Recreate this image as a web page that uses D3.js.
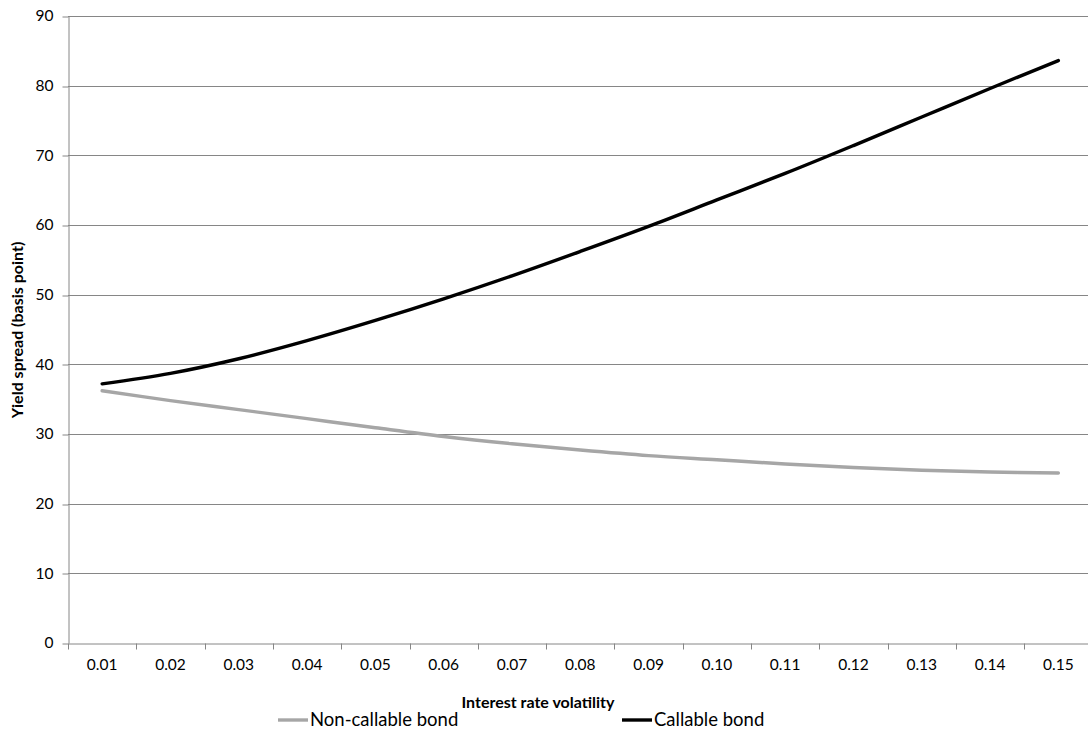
<!DOCTYPE html>
<html>
<head>
<meta charset="utf-8">
<script src="https://cdn.jsdelivr.net/npm/d3@7"></script>
<style>
  html, body { margin: 0; padding: 0; background: #fff; }
  svg { display: block; font-family: Lato, "Open Sans", sans-serif; }
</style>
</head>
<body>
<svg id="chart" width="1088" height="731"></svg>
<script>
// Interest-rate volatility categories
const categories = ["0.01","0.02","0.03","0.04","0.05","0.06","0.07","0.08",
                    "0.09","0.10","0.11","0.12","0.13","0.14","0.15"];

// Yield spread in basis points
const nonCallable = [36.2, 34.8, 33.5, 32.2, 30.9, 29.65, 28.6, 27.7,
                     26.9, 26.3, 25.7, 25.2, 24.8, 24.55, 24.4];
const callable    = [37.2, 38.7, 40.8, 43.4, 46.3, 49.4, 52.7, 56.2,
                     59.8, 63.6, 67.4, 71.4, 75.5, 79.6, 83.6];

const yTicks = [0, 10, 20, 30, 40, 50, 60, 70, 80, 90];

const seriesList = [
  { name: "Non-callable bond", values: nonCallable, color: "#a6a6a6" },
  { name: "Callable bond",     values: callable,    color: "#000000" }
];

const svg = d3.select("#chart");
const plot = { left: 68, right: 1092.5, top: 16, bottom: 643 };

const x = d3.scaleBand().domain(categories).range([plot.left, plot.right]);
const y = d3.scaleLinear().domain([0, 90]).range([plot.bottom, plot.top]);

const axisColor = "#868686";
const tickFont = "15.5px";
const titleFont = "16px";

// horizontal gridlines
svg.append("g")
  .selectAll("line")
  .data(yTicks.filter(d => d > 0))
  .join("line")
  .attr("x1", plot.left).attr("x2", plot.right)
  .attr("y1", d => Math.round(y(d)) + 0.5).attr("y2", d => Math.round(y(d)) + 0.5)
  .attr("stroke", axisColor).attr("stroke-width", 1);

// y axis
const yAxis = svg.append("g")
  .attr("transform", `translate(${plot.left + 0.5},0)`)
  .call(d3.axisLeft(y).tickValues(yTicks).tickSize(6).tickPadding(9).tickSizeOuter(0));
yAxis.select(".domain").attr("stroke", axisColor);
yAxis.selectAll(".tick line").attr("stroke", axisColor)
  .attr("transform", d => `translate(0,${Math.round(y(d)) + 0.5 - y(d)})`);
yAxis.selectAll(".tick text").attr("fill", "#000").style("font-size", tickFont)
  .style("font-family", "Lato, sans-serif");

// x axis: category labels at band centres, tick marks at band edges
const xAxis = svg.append("g")
  .attr("transform", `translate(0,${Math.round(plot.bottom) + 0.5})`)
  .call(d3.axisBottom(x).tickSize(0).tickPadding(15).tickSizeOuter(0));
xAxis.select(".domain").attr("stroke", axisColor);
xAxis.selectAll(".tick text").attr("fill", "#000").style("font-size", tickFont)
  .style("font-family", "Lato, sans-serif");
xAxis.append("g")
  .selectAll("line")
  .data(categories)
  .join("line")
  .attr("x1", d => Math.round(x(d)) + 0.5).attr("x2", d => Math.round(x(d)) + 0.5)
  .attr("y1", 0).attr("y2", 6)
  .attr("stroke", axisColor);

// series lines, smoothed
const line = d3.line()
  .x((d, i) => x(categories[i]) + x.bandwidth() / 2)
  .y(d => y(d))
  .curve(d3.curveCatmullRom.alpha(0.5));

svg.append("g")
  .selectAll("path")
  .data(seriesList)
  .join("path")
  .attr("d", s => line(s.values))
  .attr("fill", "none")
  .attr("stroke", s => s.color)
  .attr("stroke-width", 3.4)
  .attr("stroke-linecap", "round")
  .attr("stroke-linejoin", "round");

// axis titles
svg.append("text")
  .attr("x", 538).attr("y", 708)
  .attr("text-anchor", "middle")
  .style("font-size", titleFont).style("font-weight", "bold")
  .text("Interest rate volatility");

svg.append("text")
  .attr("transform", "translate(23,330) rotate(-90)")
  .attr("text-anchor", "middle")
  .style("font-size", titleFont).style("font-weight", "bold")
  .text("Yield spread (basis point)");

// legend
const legendPos = [278, 622];
const legend = svg.append("g")
  .selectAll("g")
  .data(seriesList)
  .join("g")
  .attr("transform", (s, i) => `translate(${legendPos[i]},720)`);
legend.append("line")
  .attr("x1", 0).attr("x2", 30).attr("y1", 0).attr("y2", 0)
  .attr("stroke", s => s.color).attr("stroke-width", 3.4);
legend.append("text")
  .attr("x", 32).attr("y", 0).attr("dy", "0.35em")
  .style("font-size", "18.5px")
  .text(s => s.name);
</script>
</body>
</html>
